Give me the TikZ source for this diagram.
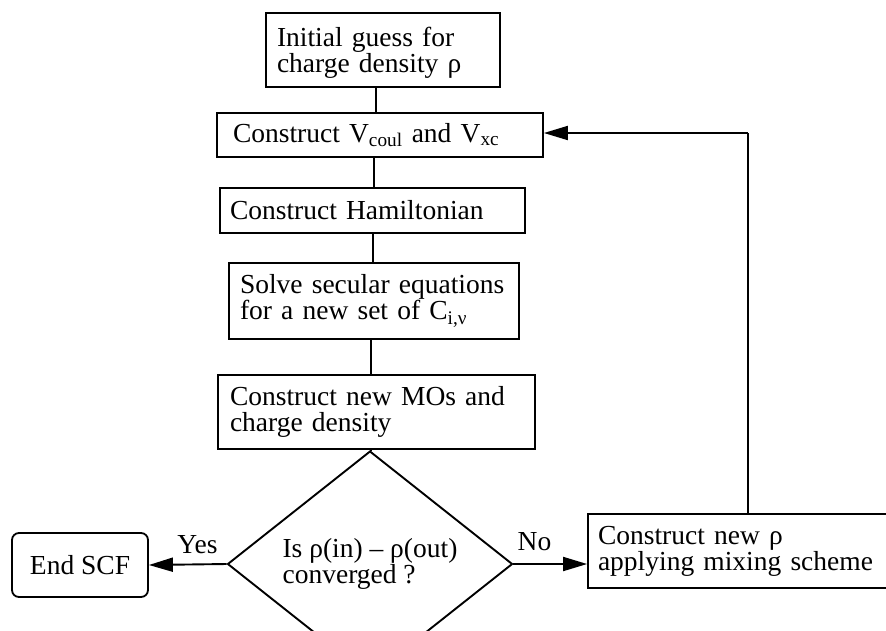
\documentclass[tikz,border=0pt]{standalone}
\usepackage{fontspec}
\setmainfont{Liberation Serif}
\usetikzlibrary{shapes.geometric,arrows.meta}
\begin{document}
\begin{tikzpicture}[x=1pt,y=-1pt,
  font=\fontsize{27.5}{26}\selectfont,
  box/.style={draw, line width=1.8pt, align=left, inner ysep=0pt, rectangle},
  conn/.style={line width=1.9pt},
  arr/.style={line width=1.9pt, -{Triangle[length=24pt,width=14pt]}},
  lbl/.style={anchor=base, inner sep=0pt}]
\useasboundingbox (0,0) rectangle (886,630);
\clip (0,0) rectangle (886,630);

\node[box, inner xsep=11pt, text width=212pt, minimum width=234pt, minimum height=74pt] (b1) at (383,50)
  {\rule{0pt}{24pt}Initial guess for\\charge density ρ};
\node[box, inner xsep=16pt, text width=294pt, minimum width=326pt, minimum height=44pt] (b2) at (380,135)
  {Construct V\textsubscript{coul} and V\textsubscript{xc}};
\node[box, inner xsep=10pt, text width=285pt, minimum width=305pt, minimum height=45pt] (b3) at (372.5,210.5)
  {Construct Hamiltonian};
\node[box, inner xsep=11pt, text width=268pt, minimum width=290pt, minimum height=76pt] (b4) at (374,301)
  {Solve secular equations\\for a new set of C\textsubscript{i,ν}};
\node[box, inner xsep=12pt, text width=293pt, minimum width=317pt, minimum height=74pt] (b5) at (376.5,412)
  {Construct new MOs and\\charge density};
\node[draw, diamond, line width=1.9pt, inner sep=0pt, align=left, minimum width=285pt, minimum height=164pt] (d) at (370,564)
  {Is ρ(in) – ρ(out)\\converged ?};
\node[draw, rectangle, rounded corners=7pt, line width=1.8pt, minimum width=136pt, minimum height=64pt, inner sep=0pt] (end) at (80,565)
  {End SCF};
\node[box, inner xsep=10pt, text width=292pt, minimum width=312pt, minimum height=74pt] (rb) at (744,551)
  {Construct new ρ\\applying mixing scheme};

\draw[conn] ([xshift=-7pt]b1.south) -- ([xshift=-4pt]b2.north);
\draw[conn] ([xshift=-6pt]b2.south) -- ([xshift=1.5pt]b3.north);
\draw[conn] ([xshift=0.5pt]b3.south) -- ([xshift=-1pt]b4.north);
\draw[conn] ([xshift=-3pt]b4.south) -- ([xshift=-5.5pt]b5.north);
\draw[conn] ([xshift=-5.5pt]b5.south) -- ([xshift=1pt]d.north);

\draw[arr] (d.west) -- (end.east);
\draw[arr] (d.east) -- (d.east -| rb.west);

\coordinate (fb) at (748,133);
\draw[line width=1.3pt] (fb |- rb.north) -- (fb);
\draw[arr] (fb) -- (b2.east |- fb);

\node[lbl] (yes) at (197.5,553) {Yes};
\node[lbl] (no) at (534.5,550) {No};
\end{tikzpicture}
\end{document}
